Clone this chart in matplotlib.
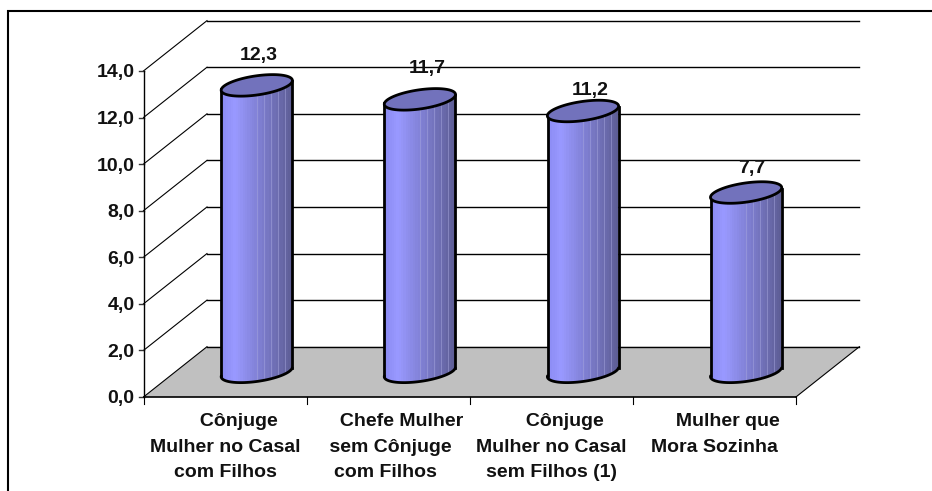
import numpy as np
import matplotlib
matplotlib.use('Agg')
import matplotlib.pyplot as plt
from matplotlib.patches import Polygon

# the padding spaces are in the original labels, they push lines off centre
categories = ['     Cônjuge\nMulher no Casal\ncom Filhos',
              '     Chefe Mulher\n sem Cônjuge\ncom Filhos ',
              '     Cônjuge\nMulher no Casal\nsem Filhos (1)',
              '     Mulher que\nMora Sozinha']
values = [12.3, 11.7, 11.2, 7.7]
value_labels = ['12,3', '11,7', '11,2', '7,7']
y_ticks = [0, 2, 4, 6, 8, 10, 12, 14]
y_tick_labels = ['0,0', '2,0', '4,0', '6,0', '8,0', '10,0', '12,0', '14,0']

# hand placed value labels, pixels away from the top of each cylinder
label_dx = [2, 7, 7, 6]
label_dy = [29.5, 30.5, 21, 24.5]

# pixel layout of the fake 3d box
W, H = 932, 491
x_px = 163.1   # pixels per category
y_px = 23.29   # pixels per unit
x0_px = 143.5
y0_px = 397.0
depth_x = 63.5 / x_px
depth_y = 50.3 / y_px
n = len(categories)

fig = plt.figure(figsize=(W / 100, H / 100), dpi=100)
ax = fig.add_axes([0, 0, 1, 1])
ax.set_xlim(-x0_px / x_px, (W - x0_px) / x_px)
ax.set_ylim(-(H - y0_px) / y_px, y0_px / y_px)
ax.axis('off')

font = {'family': 'Liberation Sans', 'weight': 'bold', 'color': '#111111'}

# outer frame, only top and left
ax.plot([(7 - x0_px) / x_px, (W - x0_px) / x_px], [(y0_px - 10.5) / y_px] * 2,
        color='black', lw=1.5, zorder=1, solid_capstyle='butt')
ax.plot([(7.5 - x0_px) / x_px] * 2, [(y0_px - 10) / y_px, -(H - y0_px) / y_px],
        color='black', lw=1.5, zorder=1, solid_capstyle='butt')

# floor
floor = Polygon([(0, 0), (n, 0), (n + depth_x, depth_y), (depth_x, depth_y)],
                closed=True, facecolor='#C0C0C0', edgecolor='none', zorder=2)
ax.add_patch(floor)
ax.plot([n, n + depth_x], [0, depth_y], color='black', lw=0.8, zorder=2)

# grid on the wall and the side
for v in y_ticks:
    ax.plot([0, depth_x], [v, v + depth_y], color='black', lw=0.8, zorder=2)
    ax.plot([depth_x, n + depth_x], [v + depth_y, v + depth_y],
            color='black', lw=1.0, zorder=2)
    ax.plot([-5 / x_px, 0], [v, v], color='#333333', lw=1.0, zorder=2)
    ax.text(-9 / x_px, v - 2 / y_px, y_tick_labels[v // 2], ha='right', va='center',
            fontsize=14, **font)

# front axis lines
ax.plot([0, 0], [0, 14], color='black', lw=1.0, zorder=3)
ax.plot([0, n], [0, 0], color='black', lw=1.2, zorder=3)
for i in range(n + 1):
    ax.plot([i, i], [0, -7 / y_px], color='black', lw=0.8, zorder=3)

# shading across the cylinder, left to right
stops = np.array([0.0, 0.18, 0.55, 1.0])
stop_cols = np.array([[140, 140, 244], [153, 153, 255], [126, 126, 208], [94, 94, 150]]) / 255
strips = 30
t_top = np.linspace(0, 2 * np.pi, 100)
a_x = 35.5 / x_px
tilt = 4.0 / y_px
b_x = 3.0 / x_px
b_y = 10.0 / y_px


def ellipse(cx, cy, t):
    return cx + a_x * np.cos(t) + b_x * np.sin(t), cy + tilt * np.cos(t) + b_y * np.sin(t)


for i, v in enumerate(values):
    cx = i + 0.5 + depth_x / 2
    cy = depth_y / 2

    # body outline: right side, lower half of the bottom ellipse, left side, top
    t_low = np.linspace(0, -np.pi, 60)
    bx, by = ellipse(cx, cy, t_low)
    tx, ty = ellipse(cx, cy + v, t_low[::-1])
    body = Polygon(np.column_stack([np.r_[bx, tx], np.r_[by, ty]]), closed=True,
                   facecolor='none', edgecolor='none', zorder=4)
    ax.add_patch(body)

    # vertical strips clipped to the body
    edges = np.linspace(cx - a_x, cx + a_x, strips + 1)
    f = np.linspace(0, 1, strips)
    cols = np.column_stack([np.interp(f, stops, stop_cols[:, c]) for c in range(3)])
    for k in range(strips):
        r = ax.fill_between([edges[k], edges[k + 1]], cy - 1, cy + v + 1,
                            color=cols[k], lw=0, zorder=4)
        r.set_clip_path(body)
        # pale seams on the right half of the body, like the original
        if k > 13 and k % 3 == 0:
            s = ax.plot([edges[k]] * 2, [cy - 1, cy + v + 1], color='#A8A8E0',
                        lw=0.7, alpha=0.5, zorder=4)[0]
            s.set_clip_path(body)

    ax.plot(bx, by, color='black', lw=2, zorder=5, solid_capstyle='round')
    ax.plot([bx[0], tx[-1]], [by[0], ty[-1]], color='black', lw=2, zorder=5)
    ax.plot([bx[-1], tx[0]], [by[-1], ty[0]], color='black', lw=2, zorder=5)

    # top cap
    ex, ey = ellipse(cx, cy + v, t_top)
    ax.add_patch(Polygon(np.column_stack([ex, ey]), closed=True, facecolor='#7272BC',
                         edgecolor='black', lw=2, zorder=6))

    # value label
    ax.text(cx + label_dx[i] / x_px, cy + v + label_dy[i] / y_px, value_labels[i],
            ha='center', va='center', fontsize=14, zorder=7, **font)

    # category label
    ax.text(i + 0.5, -(413 - y0_px) / y_px, categories[i], ha='center', va='top',
            fontsize=14, linespacing=1.67, zorder=7, **font)

plt.savefig('out.png', dpi=100)
